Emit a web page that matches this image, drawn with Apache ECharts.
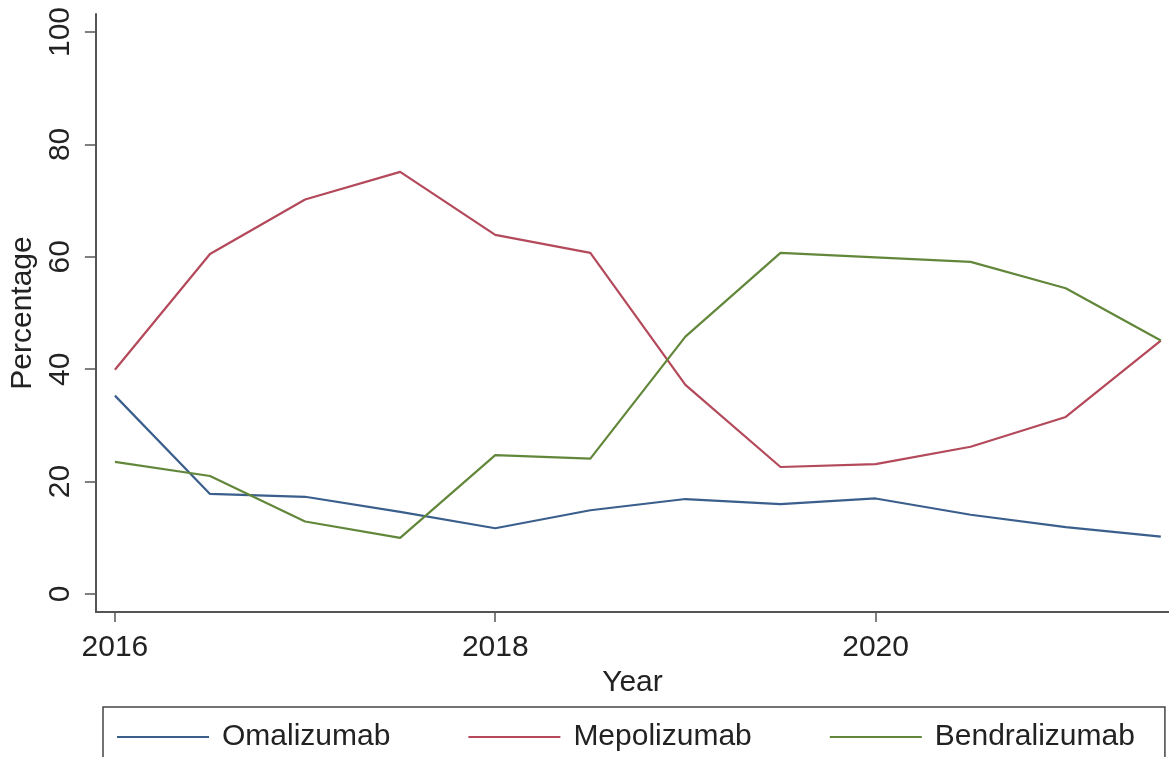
<!DOCTYPE html>
<html>
<head>
<meta charset="utf-8">
<script src="https://cdn.jsdelivr.net/npm/echarts@6/dist/echarts.min.js"></script>
<style>
    html, body { margin: 0; padding: 0; background: #ffffff; }
    #chart { width: 1169px; height: 757px; }
</style>
</head>
<body>
<div id="chart"></div>
<script>
    // half-year observations
    var years = [2016, 2016.5, 2017, 2017.5, 2018, 2018.5, 2019, 2019.5, 2020, 2020.5, 2021, 2021.5];
    var omalizumab = [35.3, 17.8, 17.3, 14.6, 11.7, 14.9, 16.9, 16.0, 17.0, 14.1, 11.9, 10.2];
    var mepolizumab = [39.9, 60.5, 70.2, 75.1, 63.9, 60.7, 37.2, 22.6, 23.1, 26.2, 31.5, 45.1];
    var bendralizumab = [23.5, 21.0, 12.9, 10.0, 24.7, 24.1, 45.8, 60.7, 59.9, 59.1, 54.4, 45.1];
    var xTicks = [2016, 2018, 2020];
    var yTicks = [0, 20, 40, 60, 80, 100];

    function pairs(vals) {
        var out = [];
        for (var i = 0; i < years.length; i++) {
            out.push([years[i], vals[i]]);
        }
        return out;
    }

    var font = 'Liberation Sans, Arial, sans-serif';
    var axisColor = '#555555';

    var chart = echarts.init(document.getElementById('chart'));
    var option = {
        backgroundColor: '#ffffff',
        animation: false,
        textStyle: { fontFamily: font, color: '#222222' },
        grid: { left: 94, right: 0, top: 14, bottom: 145, containLabel: false },
        legend: {
            left: 103,
            top: 707,
            width: 1062,
            padding: [15, 30, 40, 14],
            icon: 'rect',
            itemWidth: 92,
            itemHeight: 2,
            itemGap: 78,
            borderColor: '#444444',
            borderWidth: 1.5,
            textStyle: { fontSize: 30, fontFamily: font, color: '#222222', padding: [0, 0, 0, 8] },
            data: ['Omalizumab', 'Mepolizumab', 'Bendralizumab']
        },
        xAxis: {
            type: 'value',
            min: 2015.9,
            max: 2021.543,
            name: 'Year',
            nameLocation: 'middle',
            nameGap: 45,
            nameTextStyle: { fontSize: 30, color: '#222222' },
            splitLine: { show: false },
            axisLine: { show: true, onZero: false, lineStyle: { color: axisColor, width: 2 } },
            axisTick: { show: true, length: 10, customValues: xTicks, lineStyle: { color: axisColor, width: 1.5 } },
            axisLabel: {
                fontSize: 30, color: '#222222', margin: 21, customValues: xTicks,
                formatter: function (v) { return String(v); }
            }
        },
        yAxis: {
            type: 'value',
            min: -3.2,
            max: 103.2,
            name: 'Percentage',
            nameLocation: 'middle',
            nameGap: 50,
            nameRotate: 90,
            nameTextStyle: { fontSize: 30, color: '#222222' },
            splitLine: { show: false },
            axisLine: { show: true, onZero: false, lineStyle: { color: axisColor, width: 2 } },
            axisTick: { show: true, length: 11, customValues: yTicks, lineStyle: { color: axisColor, width: 1.5 } },
            axisLabel: {
                fontSize: 30, color: '#222222', rotate: 90, margin: 20, customValues: yTicks,
                formatter: function (v) { return String(v); }
            }
        },
        series: [
            {
                name: 'Omalizumab', type: 'line', symbol: 'none',
                lineStyle: { color: '#3b5f8c', width: 2.2 }, itemStyle: { color: '#3b5f8c' },
                data: pairs(omalizumab)
            },
            {
                name: 'Mepolizumab', type: 'line', symbol: 'none',
                lineStyle: { color: '#b3495a', width: 2.2 }, itemStyle: { color: '#b3495a' },
                data: pairs(mepolizumab)
            },
            {
                name: 'Bendralizumab', type: 'line', symbol: 'none',
                lineStyle: { color: '#62873a', width: 2.2 }, itemStyle: { color: '#62873a' },
                data: pairs(bendralizumab)
            }
        ]
    };
    chart.setOption(option);
</script>
</body>
</html>
